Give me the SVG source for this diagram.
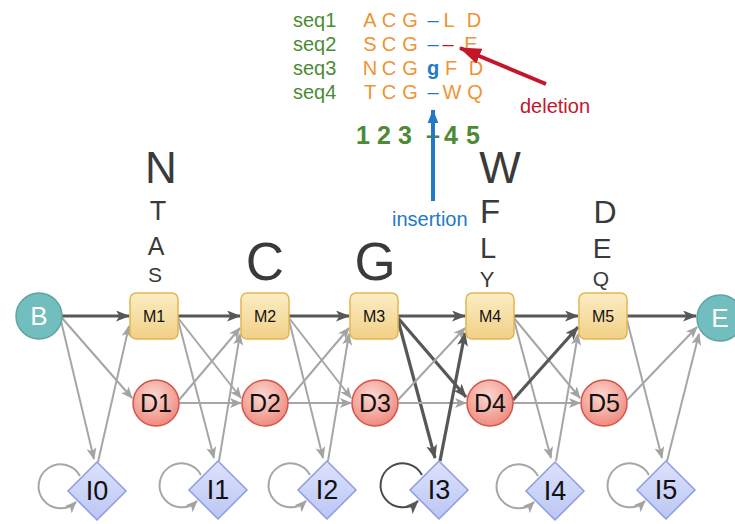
<svg xmlns="http://www.w3.org/2000/svg" width="735" height="524" viewBox="0 0 735 524">
<defs>
<linearGradient id="gM" x1="0" y1="0" x2="0" y2="1"><stop offset="0" stop-color="#FCEDC4"/><stop offset="1" stop-color="#F1D086"/></linearGradient>
<radialGradient id="gD" cx="0.45" cy="0.35" r="0.7"><stop offset="0" stop-color="#FCD8D0"/><stop offset="1" stop-color="#EF8579"/></radialGradient>
<linearGradient id="gI" x1="0" y1="0" x2="0" y2="1"><stop offset="0" stop-color="#DCE2FC"/><stop offset="1" stop-color="#BCC6F4"/></linearGradient>
<marker id="ag" markerUnits="userSpaceOnUse" markerWidth="12" markerHeight="10" viewBox="0 0 12 10" refX="11" refY="5" orient="auto"><path d="M0,0 L12,5 L0,10 L3,5 z" fill="#A3A3A3"/></marker>
<marker id="ad" markerUnits="userSpaceOnUse" markerWidth="14" markerHeight="11" viewBox="0 0 14 11" refX="13" refY="5.5" orient="auto"><path d="M0,0 L14,5.5 L0,11 L3.5,5.5 z" fill="#575757"/></marker>
<marker id="ab" markerUnits="userSpaceOnUse" markerWidth="14" markerHeight="18" viewBox="0 0 18 14" refX="17" refY="7" orient="auto"><path d="M0,0 L18,7 L0,14 z" fill="#2479C6"/></marker>
<marker id="ar" markerUnits="userSpaceOnUse" markerWidth="22" markerHeight="16" viewBox="0 0 22 16" refX="21" refY="8" orient="auto"><path d="M0,0 L22,8 L0,16 z" fill="#C4162A"/></marker>
<style>
text{font-family:"Liberation Sans",Arial,Helvetica,sans-serif}
.g{stroke:#A6A6A6;stroke-width:2;fill:none;marker-end:url(#ag)}
.d{stroke:#575757;stroke-width:3.2;fill:none;marker-end:url(#ad)}
.dl{stroke:#4A4A4A;stroke-width:2;fill:none;marker-end:url(#ad)}
.m rect{fill:url(#gM);stroke:#E2B653;stroke-width:1.5}
.dn circle{fill:url(#gD);stroke:#D2564B;stroke-width:1.5}
.in polygon{fill:url(#gI);stroke:#8E9CE2;stroke-width:1.5}
.t circle{fill:#72BDBD;stroke:#5FA4A5;stroke-width:1.5}
.m text{font-size:16px;text-anchor:middle;fill:#111}
.dn text{font-size:25px;text-anchor:middle;fill:#111}
.in text{font-size:27px;text-anchor:middle;fill:#111}
.t text{font-size:26px;text-anchor:middle;fill:#fff}
.lbl{font-size:20px;fill:#4C8B33}
.aa{font-size:20px;fill:#EE9434;text-anchor:middle}
.bl{fill:#2479C6}
.num{font-size:25px;font-weight:bold;fill:#4C8B33;text-anchor:middle}
.big{fill:#3A3A3A;text-anchor:middle}
</style>
</defs>
<rect width="735" height="524" fill="#fff"/>

<g id="alignment">
<text class="lbl" x="293" y="27">seq1</text>
<text class="lbl" x="293" y="51">seq2</text>
<text class="lbl" x="293" y="75">seq3</text>
<text class="lbl" x="293" y="99">seq4</text>
<text class="aa" y="27"><tspan x="370">A</tspan><tspan x="389">C</tspan><tspan x="410">G</tspan><tspan x="433" class="bl">–</tspan><tspan x="449">L</tspan><tspan x="474">D</tspan></text>
<text class="aa" y="51"><tspan x="370">S</tspan><tspan x="389">C</tspan><tspan x="410">G</tspan><tspan x="433" class="bl">–</tspan><tspan x="448" fill="#C4162A">–</tspan><tspan x="471">E</tspan></text>
<text class="aa" y="75"><tspan x="370">N</tspan><tspan x="389">C</tspan><tspan x="410">G</tspan><tspan x="433" class="bl" font-weight="bold">g</tspan><tspan x="451">F</tspan><tspan x="476">D</tspan></text>
<text class="aa" y="99"><tspan x="370">T</tspan><tspan x="389">C</tspan><tspan x="410">G</tspan><tspan x="433" class="bl">–</tspan><tspan x="452">W</tspan><tspan x="475">Q</tspan></text>
<text class="num" y="144"><tspan x="363">1</tspan><tspan x="384">2</tspan><tspan x="405">3</tspan><tspan x="433">–</tspan><tspan x="451">4</tspan><tspan x="473">5</tspan></text>
<line x1="433" y1="201" x2="433" y2="110" stroke="#2479C6" stroke-width="4" marker-end="url(#ab)"/>
<text x="392" y="226" font-size="20" fill="#2479C6">insertion</text>
<line x1="546" y1="84" x2="460" y2="48" stroke="#C4162A" stroke-width="4" marker-end="url(#ar)"/>
<text x="520" y="113" font-size="20" fill="#C4162A">deletion</text>
</g>

<g id="emissions">
<text class="big" x="161" y="183" font-size="44">N</text>
<text class="big" x="158" y="220" font-size="27">T</text>
<text class="big" x="156" y="255" font-size="25">A</text>
<text class="big" x="155" y="282" font-size="21">S</text>
<text class="big" x="265" y="280" font-size="53">C</text>
<text class="big" x="375" y="280" font-size="53">G</text>
<text class="big" x="500" y="183" font-size="44">W</text>
<text class="big" x="490" y="223" font-size="33">F</text>
<text class="big" x="488" y="258" font-size="29">L</text>
<text class="big" x="487" y="287" font-size="22">Y</text>
<text class="big" x="605" y="223" font-size="32">D</text>
<text class="big" x="602" y="258" font-size="28">E</text>
<text class="big" x="601" y="286" font-size="21">Q</text>
</g>

<g id="connectors">
<path class="d" d="M62,316 L129,316"/>
<path class="g" d="M62,318 L132,398"/>
<path class="g" d="M61,321 L94,459"/>
<path class="g" d="M98,462 L129,326"/>
<path class="g" d="M80,476 A22,22 0 1 0 76,502"/>

<path class="d" d="M178,316 L240,316"/>
<path class="g" d="M178,318 L241,398"/>
<path class="g" d="M178,320 L214,458"/>
<path class="g" d="M179,400 L240,328"/>
<path class="g" d="M179,403 L241,403"/>
<path class="g" d="M219,461 L240,334"/>
<path class="g" d="M201,475 A22,22 0 1 0 197,501"/>

<path class="d" d="M289,316 L349,316"/>
<path class="g" d="M289,318 L351,398"/>
<path class="g" d="M289,320 L323,458"/>
<path class="g" d="M288,400 L349,328"/>
<path class="g" d="M288,403 L351,403"/>
<path class="g" d="M328,461 L349,334"/>
<path class="g" d="M310,475 A22,22 0 1 0 306,501"/>

<path class="d" d="M398,316 L465,316"/>
<path class="d" d="M398,318 L466,397"/>
<path class="d" d="M398,320 L435,458"/>
<path class="g" d="M398,400 L465,328"/>
<path class="g" d="M398,403 L466,403"/>
<path class="d" d="M440,461 L465,333"/>
<path class="dl" d="M422,475 A22,22 0 1 0 418,501"/>

<path class="d" d="M514,316 L578,316"/>
<path class="g" d="M514,318 L580,398"/>
<path class="g" d="M514,320 L551,458"/>
<path class="d" d="M513,400 L578,327"/>
<path class="g" d="M513,403 L580,403"/>
<path class="g" d="M556,461 L578,334"/>
<path class="g" d="M538,476 A22,22 0 1 0 534,502"/>

<path class="d" d="M627,316 L696,316"/>
<path class="g" d="M627,320 L662,458"/>
<path class="g" d="M627,400 L697,327"/>
<path class="g" d="M667,461 L699,334"/>
<path class="g" d="M649,475 A22,22 0 1 0 645,501"/>
</g>

<g id="B" class="t"><circle cx="39" cy="316" r="23"/><text x="39" y="325">B</text></g>
<g id="E" class="t"><circle cx="720" cy="318" r="23"/><text x="720" y="327">E</text></g>

<g id="M1" class="m"><rect x="130" y="293" width="48" height="46" rx="6"/><text x="154" y="322">M1</text></g>
<g id="M2" class="m"><rect x="241" y="293" width="48" height="46" rx="6"/><text x="265" y="322">M2</text></g>
<g id="M3" class="m"><rect x="350" y="293" width="48" height="46" rx="6"/><text x="374" y="322">M3</text></g>
<g id="M4" class="m"><rect x="466" y="293" width="48" height="46" rx="6"/><text x="490" y="322">M4</text></g>
<g id="M5" class="m"><rect x="579" y="293" width="48" height="46" rx="6"/><text x="603" y="322">M5</text></g>

<g id="D1" class="dn"><circle cx="156" cy="403" r="23"/><text x="156" y="412">D1</text></g>
<g id="D2" class="dn"><circle cx="265" cy="403" r="23"/><text x="265" y="412">D2</text></g>
<g id="D3" class="dn"><circle cx="375" cy="403" r="23"/><text x="375" y="412">D3</text></g>
<g id="D4" class="dn"><circle cx="490" cy="403" r="23"/><text x="490" y="412">D4</text></g>
<g id="D5" class="dn"><circle cx="604" cy="403" r="23"/><text x="604" y="412">D5</text></g>

<g id="I0" class="in"><polygon points="97,462 126,491 97,520 68,491"/><text x="97" y="500">I0</text></g>
<g id="I1" class="in"><polygon points="218,461 247,490 218,519 189,490"/><text x="218" y="499">I1</text></g>
<g id="I2" class="in"><polygon points="327,461 356,490 327,519 298,490"/><text x="327" y="499">I2</text></g>
<g id="I3" class="in"><polygon points="439,461 468,490 439,519 410,490"/><text x="439" y="499">I3</text></g>
<g id="I4" class="in"><polygon points="555,462 584,491 555,520 526,491"/><text x="555" y="500">I4</text></g>
<g id="I5" class="in"><polygon points="666,461 695,490 666,519 637,490"/><text x="666" y="499">I5</text></g>
</svg>
